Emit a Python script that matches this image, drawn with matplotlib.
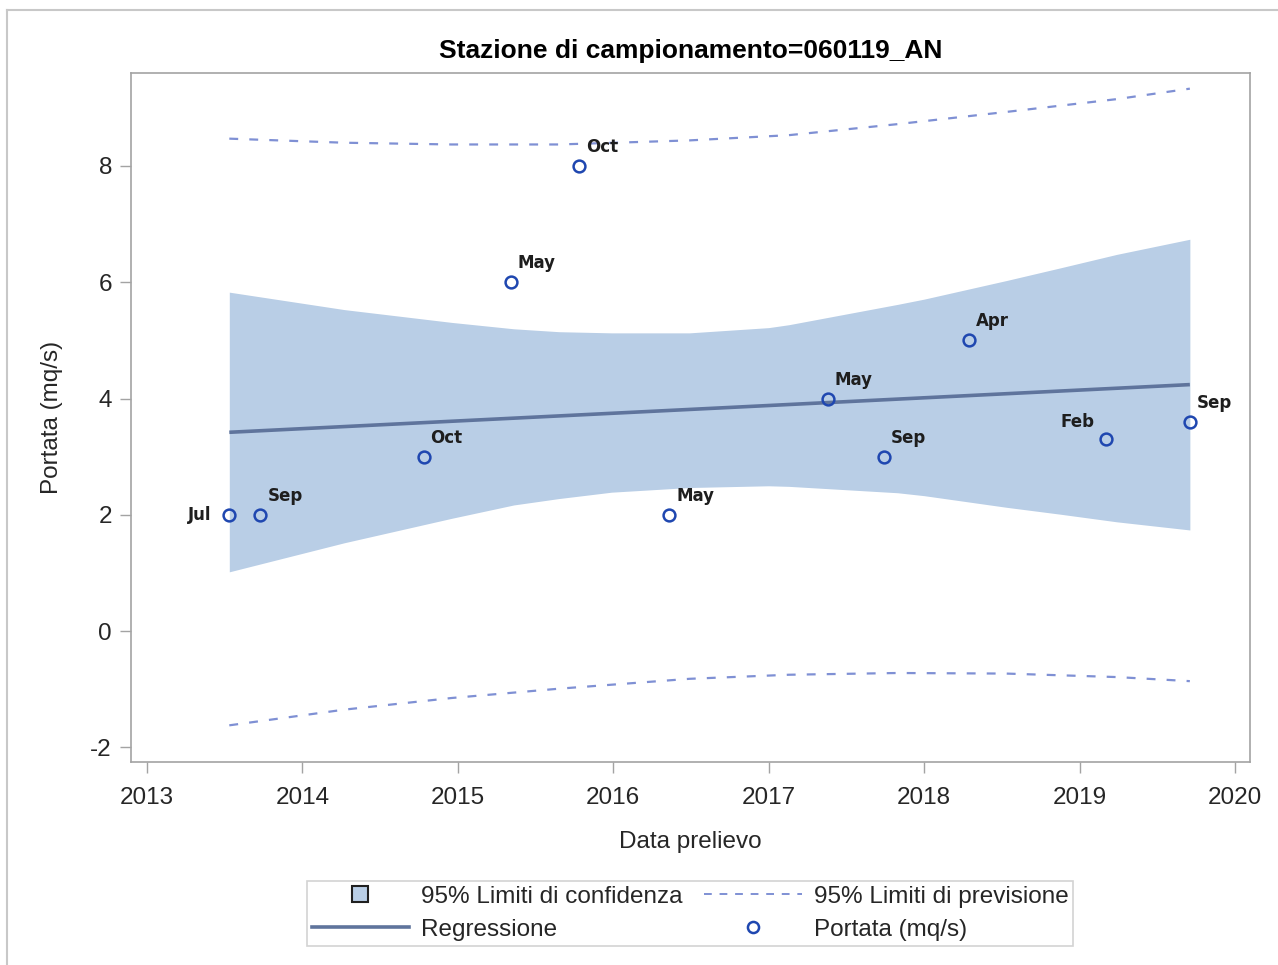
import matplotlib
matplotlib.use("Agg")
import matplotlib.pyplot as plt
from matplotlib.lines import Line2D

plt.rcParams['font.family'] = ['Liberation Sans', 'DejaVu Sans']
plt.rcParams['axes.unicode_minus'] = False

# observations (decimal year of sampling, flow) and their month labels
date_year = [2013.53, 2013.73, 2014.78, 2015.34, 2015.78, 2016.36, 2017.38, 2017.74, 2018.29, 2019.17, 2019.71]
portata = [2, 2, 3, 6, 8, 2, 4, 3, 5, 3.3, 3.6]
month_lbl = ['Jul', 'Sep', 'Oct', 'May', 'Oct', 'May', 'May', 'Sep', 'Apr', 'Feb', 'Sep']

# fitted line (end points)
reg_x = [2013.53, 2019.71]
reg_y = [3.42, 4.24]

# 95% confidence band
band_x = [2013.53, 2014.27, 2014.96, 2015.36, 2015.65, 2015.99, 2016.49, 2017.00,
          2017.13, 2017.83, 2018.00, 2018.53, 2018.88, 2019.24, 2019.71]
conf_up = [5.83, 5.53, 5.31, 5.20, 5.15, 5.13, 5.13, 5.22, 5.27, 5.62, 5.71, 6.03, 6.25, 6.48, 6.74]
conf_low = [1.02, 1.52, 1.94, 2.17, 2.28, 2.39, 2.47, 2.50, 2.49, 2.38, 2.33, 2.13, 2.01, 1.88, 1.74]

# 95% prediction limits
pred_x = [2013.53, 2014.27, 2014.96, 2015.65, 2016.49, 2017.13, 2017.83, 2018.53, 2019.24, 2019.71]
pred_low = [-1.62, -1.35, -1.15, -0.99, -0.82, -0.75, -0.72, -0.73, -0.79, -0.86]
pred_up = [8.47, 8.40, 8.37, 8.37, 8.44, 8.53, 8.72, 8.93, 9.15, 9.33]

year_ticks = [2013, 2014, 2015, 2016, 2017, 2018, 2019, 2020]
y_ticks = [-2, 0, 2, 4, 6, 8]

band_col = '#B9CEE6'
reg_col = '#5F749C'
pred_col = '#7F90D4'
pt_col = '#1F47B0'
spine_col = '#A3A3A3'

fig = plt.figure(figsize=(12.78, 9.65), dpi=100)
ax = fig.add_axes([0.1028, 0.2104, 0.8753, 0.714])

ax.fill_between(band_x, conf_low, conf_up, color=band_col, lw=0)
ax.plot(pred_x, pred_up, color=pred_col, lw=1.6, dashes=(4, 5))
ax.plot(pred_x, pred_low, color=pred_col, lw=1.6, dashes=(4, 5))
ax.plot(reg_x, reg_y, color=reg_col, lw=2.6, solid_capstyle='butt')
ax.plot(date_year, portata, 'o', ms=8.5, mfc='none', mec=pt_col, mew=1.8)

# SAS puts two of the labels on the left of their points
left_side = {0: (-18, 0), 9: (-11, 17)}
for i, (x, y, t) in enumerate(zip(date_year, portata, month_lbl)):
    if i in left_side:
        off, ha = left_side[i], 'right'
    else:
        off, ha = (7, 19), 'left'
    ax.annotate(t, (x, y), xytext=off, textcoords='offset pixels', ha=ha, va='center',
                fontsize=12, color='#1e1e1e', fontweight='bold', family='DejaVu Sans')

ax.set_xlim(2012.9, 2020.097)
ax.set_ylim(-2.25, 9.6)
ax.set_xticks(year_ticks)
ax.set_yticks(y_ticks)
ax.set_xticklabels([str(v) for v in year_ticks])
ax.tick_params(direction='out', length=8, width=1, color=spine_col, labelsize=17.5,
               labelcolor='#262626')
ax.tick_params(axis='x', pad=10)
ax.tick_params(axis='y', pad=6)
for s in ax.spines.values():
    s.set_color(spine_col)
    s.set_linewidth(1.2)

ax.set_xlabel('Data prelievo', fontsize=17.5, color='#262626', labelpad=16)
ax.set_ylabel('Portata (mq/s)', fontsize=17.5, color='#262626', labelpad=20)
ax.set_title('Stazione di campionamento=060119_AN', fontsize=19, fontweight='bold',
             family=['Liberation Sans Narrow', 'Liberation Sans'], pad=11)

handles = [
    Line2D([], [], ls='none', marker='s', ms=12, mfc=band_col, mec='#202020', mew=1.5),
    Line2D([], [], color=reg_col, lw=2.6),
    Line2D([], [], color=pred_col, lw=1.4, dashes=(4, 4)),
    Line2D([], [], ls='none', marker='o', ms=8, mfc='none', mec=pt_col, mew=1.8),
]
labels = ['95% Limiti di confidenza', 'Regressione', '95% Limiti di previsione', 'Portata (mq/s)']
leg = fig.legend(handles, labels, ncol=2, loc='center', bbox_to_anchor=(0.54, 0.0535),
                 fontsize=17.5, frameon=True, fancybox=False, handlelength=4.0,
                 handletextpad=0.5, columnspacing=0.9, labelspacing=0.45, borderpad=0.2)
leg.get_frame().set_edgecolor('#C8C8C8')
leg.get_frame().set_linewidth(1.2)
for t in leg.get_texts():
    t.set_color('#262626')

# thin frame round the whole graph (top and left edges visible)
fig.add_artist(Line2D([7 / 1278, 1.0], [1 - 10 / 965] * 2, transform=fig.transFigure,
                      color='#C8C8C8', lw=1.5))
fig.add_artist(Line2D([7 / 1278] * 2, [0.0, 1 - 10 / 965], transform=fig.transFigure,
                      color='#C8C8C8', lw=1.5))

fig.savefig('out.png', dpi=100)
